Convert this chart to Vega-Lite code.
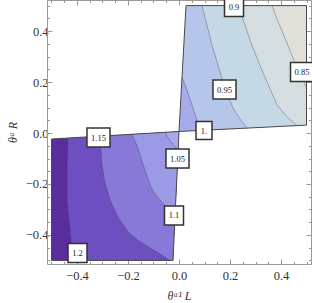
{
  "$schema": "https://vega.github.io/schema/vega-lite/v6.json",
  "width": 264,
  "height": 264,
  "autosize": "none",
  "padding": {"left": 47, "top": 0, "right": 1, "bottom": 39},
  "background": "white",
  "config": {"view": {"stroke": null}},
  "datasets": {
    "bands": [
      {"poly": "L0", "band": "b1", "i": 0, "x": -0.5, "y": -0.5},
      {"poly": "L0", "band": "b1", "i": 1, "x": -0.5, "y": -0.0235},
      {"poly": "L0", "band": "b1", "i": 2, "x": 0, "y": 0.006},
      {"poly": "L0", "band": "b1", "i": 3, "x": -0.0235, "y": -0.5},
      {"poly": "L1", "band": "b2", "i": 0, "x": -0.4353, "y": -0.0197},
      {"poly": "L1", "band": "b2", "i": 1, "x": -0.4392, "y": -0.1451},
      {"poly": "L1", "band": "b2", "i": 2, "x": -0.4392, "y": -0.2627},
      {"poly": "L1", "band": "b2", "i": 3, "x": -0.4275, "y": -0.3804},
      {"poly": "L1", "band": "b2", "i": 4, "x": -0.4157, "y": -0.5},
      {"poly": "L1", "band": "b2", "i": 5, "x": -0.0235, "y": -0.5},
      {"poly": "L1", "band": "b2", "i": 6, "x": 0, "y": 0.006},
      {"poly": "L2", "band": "b3", "i": 0, "x": -0.3098, "y": -0.0123},
      {"poly": "L2", "band": "b3", "i": 1, "x": -0.3059, "y": -0.0667},
      {"poly": "L2", "band": "b3", "i": 2, "x": -0.302, "y": -0.1255},
      {"poly": "L2", "band": "b3", "i": 3, "x": -0.2902, "y": -0.1961},
      {"poly": "L2", "band": "b3", "i": 4, "x": -0.2706, "y": -0.2627},
      {"poly": "L2", "band": "b3", "i": 5, "x": -0.2392, "y": -0.3294},
      {"poly": "L2", "band": "b3", "i": 6, "x": -0.2, "y": -0.3882},
      {"poly": "L2", "band": "b3", "i": 7, "x": -0.1569, "y": -0.4235},
      {"poly": "L2", "band": "b3", "i": 8, "x": -0.1137, "y": -0.451},
      {"poly": "L2", "band": "b3", "i": 9, "x": -0.0745, "y": -0.4745},
      {"poly": "L2", "band": "b3", "i": 10, "x": -0.0353, "y": -0.5},
      {"poly": "L2", "band": "b3", "i": 11, "x": -0.0235, "y": -0.5},
      {"poly": "L2", "band": "b3", "i": 12, "x": 0, "y": 0.006},
      {"poly": "L3", "band": "b4", "i": 0, "x": -0.1843, "y": -0.0049},
      {"poly": "L3", "band": "b4", "i": 1, "x": -0.1725, "y": -0.0314},
      {"poly": "L3", "band": "b4", "i": 2, "x": -0.1608, "y": -0.0588},
      {"poly": "L3", "band": "b4", "i": 3, "x": -0.149, "y": -0.098},
      {"poly": "L3", "band": "b4", "i": 4, "x": -0.1333, "y": -0.1451},
      {"poly": "L3", "band": "b4", "i": 5, "x": -0.1137, "y": -0.2039},
      {"poly": "L3", "band": "b4", "i": 6, "x": -0.0941, "y": -0.2392},
      {"poly": "L3", "band": "b4", "i": 7, "x": -0.0745, "y": -0.2627},
      {"poly": "L3", "band": "b4", "i": 8, "x": -0.0471, "y": -0.2941},
      {"poly": "L3", "band": "b4", "i": 9, "x": -0.015, "y": -0.3176},
      {"poly": "L3", "band": "b4", "i": 10, "x": 0, "y": 0.006},
      {"poly": "L4", "band": "b5", "i": 0, "x": -0.0549, "y": 0.0028},
      {"poly": "L4", "band": "b5", "i": 1, "x": -0.0314, "y": -0.0353},
      {"poly": "L4", "band": "b5", "i": 2, "x": -0.0034, "y": -0.0667},
      {"poly": "L4", "band": "b5", "i": 3, "x": 0, "y": 0.006},
      {"poly": "U0", "band": "b5", "i": 0, "x": 0, "y": 0.006},
      {"poly": "U0", "band": "b5", "i": 1, "x": 0.0275, "y": 0.5},
      {"poly": "U0", "band": "b5", "i": 2, "x": 0.5, "y": 0.5},
      {"poly": "U0", "band": "b5", "i": 3, "x": 0.5, "y": 0.031},
      {"poly": "U1", "band": "b6", "i": 0, "x": 0.0119, "y": 0.2196},
      {"poly": "U1", "band": "b6", "i": 1, "x": 0.0314, "y": 0.1686},
      {"poly": "U1", "band": "b6", "i": 2, "x": 0.051, "y": 0.1098},
      {"poly": "U1", "band": "b6", "i": 3, "x": 0.0706, "y": 0.051},
      {"poly": "U1", "band": "b6", "i": 4, "x": 0.0824, "y": 0.0093},
      {"poly": "U1", "band": "b6", "i": 5, "x": 0.5, "y": 0.031},
      {"poly": "U1", "band": "b6", "i": 6, "x": 0.5, "y": 0.5},
      {"poly": "U1", "band": "b6", "i": 7, "x": 0.0275, "y": 0.5},
      {"poly": "U2", "band": "b7", "i": 0, "x": 0.0902, "y": 0.5},
      {"poly": "U2", "band": "b7", "i": 1, "x": 0.1098, "y": 0.4235},
      {"poly": "U2", "band": "b7", "i": 2, "x": 0.1294, "y": 0.3451},
      {"poly": "U2", "band": "b7", "i": 3, "x": 0.1529, "y": 0.2667},
      {"poly": "U2", "band": "b7", "i": 4, "x": 0.1765, "y": 0.1882},
      {"poly": "U2", "band": "b7", "i": 5, "x": 0.2118, "y": 0.098},
      {"poly": "U2", "band": "b7", "i": 6, "x": 0.2392, "y": 0.0549},
      {"poly": "U2", "band": "b7", "i": 7, "x": 0.2667, "y": 0.0189},
      {"poly": "U2", "band": "b7", "i": 8, "x": 0.5, "y": 0.031},
      {"poly": "U2", "band": "b7", "i": 9, "x": 0.5, "y": 0.5},
      {"poly": "U3", "band": "b8", "i": 0, "x": 0.2314, "y": 0.5},
      {"poly": "U3", "band": "b8", "i": 1, "x": 0.2549, "y": 0.4353},
      {"poly": "U3", "band": "b8", "i": 2, "x": 0.2784, "y": 0.3647},
      {"poly": "U3", "band": "b8", "i": 3, "x": 0.3059, "y": 0.2941},
      {"poly": "U3", "band": "b8", "i": 4, "x": 0.3333, "y": 0.2275},
      {"poly": "U3", "band": "b8", "i": 5, "x": 0.3843, "y": 0.1098},
      {"poly": "U3", "band": "b8", "i": 6, "x": 0.4235, "y": 0.0627},
      {"poly": "U3", "band": "b8", "i": 7, "x": 0.4627, "y": 0.0291},
      {"poly": "U3", "band": "b8", "i": 8, "x": 0.5, "y": 0.031},
      {"poly": "U3", "band": "b8", "i": 9, "x": 0.5, "y": 0.5},
      {"poly": "U4", "band": "b9", "i": 0, "x": 0.3647, "y": 0.5},
      {"poly": "U4", "band": "b9", "i": 1, "x": 0.3843, "y": 0.4471},
      {"poly": "U4", "band": "b9", "i": 2, "x": 0.4078, "y": 0.3922},
      {"poly": "U4", "band": "b9", "i": 3, "x": 0.4471, "y": 0.2941},
      {"poly": "U4", "band": "b9", "i": 4, "x": 0.4745, "y": 0.2353},
      {"poly": "U4", "band": "b9", "i": 5, "x": 0.5, "y": 0.1765},
      {"poly": "U4", "band": "b9", "i": 6, "x": 0.5, "y": 0.5}
    ],
    "contours": [
      {"c": "1.2", "i": 0, "x": -0.4353, "y": -0.0197},
      {"c": "1.2", "i": 1, "x": -0.4392, "y": -0.1451},
      {"c": "1.2", "i": 2, "x": -0.4392, "y": -0.2627},
      {"c": "1.2", "i": 3, "x": -0.4275, "y": -0.3804},
      {"c": "1.2", "i": 4, "x": -0.4157, "y": -0.5},
      {"c": "1.15", "i": 0, "x": -0.3098, "y": -0.0123},
      {"c": "1.15", "i": 1, "x": -0.3059, "y": -0.0667},
      {"c": "1.15", "i": 2, "x": -0.302, "y": -0.1255},
      {"c": "1.15", "i": 3, "x": -0.2902, "y": -0.1961},
      {"c": "1.15", "i": 4, "x": -0.2706, "y": -0.2627},
      {"c": "1.15", "i": 5, "x": -0.2392, "y": -0.3294},
      {"c": "1.15", "i": 6, "x": -0.2, "y": -0.3882},
      {"c": "1.15", "i": 7, "x": -0.1569, "y": -0.4235},
      {"c": "1.15", "i": 8, "x": -0.1137, "y": -0.451},
      {"c": "1.15", "i": 9, "x": -0.0745, "y": -0.4745},
      {"c": "1.15", "i": 10, "x": -0.0353, "y": -0.5},
      {"c": "1.1", "i": 0, "x": -0.1843, "y": -0.0049},
      {"c": "1.1", "i": 1, "x": -0.1725, "y": -0.0314},
      {"c": "1.1", "i": 2, "x": -0.1608, "y": -0.0588},
      {"c": "1.1", "i": 3, "x": -0.149, "y": -0.098},
      {"c": "1.1", "i": 4, "x": -0.1333, "y": -0.1451},
      {"c": "1.1", "i": 5, "x": -0.1137, "y": -0.2039},
      {"c": "1.1", "i": 6, "x": -0.0941, "y": -0.2392},
      {"c": "1.1", "i": 7, "x": -0.0745, "y": -0.2627},
      {"c": "1.1", "i": 8, "x": -0.0471, "y": -0.2941},
      {"c": "1.1", "i": 9, "x": -0.015, "y": -0.3176},
      {"c": "1.05", "i": 0, "x": -0.0549, "y": 0.0028},
      {"c": "1.05", "i": 1, "x": -0.0314, "y": -0.0353},
      {"c": "1.05", "i": 2, "x": -0.0034, "y": -0.0667},
      {"c": "1.0", "i": 0, "x": 0.0119, "y": 0.2196},
      {"c": "1.0", "i": 1, "x": 0.0314, "y": 0.1686},
      {"c": "1.0", "i": 2, "x": 0.051, "y": 0.1098},
      {"c": "1.0", "i": 3, "x": 0.0706, "y": 0.051},
      {"c": "1.0", "i": 4, "x": 0.0824, "y": 0.0093},
      {"c": "0.95", "i": 0, "x": 0.0902, "y": 0.5},
      {"c": "0.95", "i": 1, "x": 0.1098, "y": 0.4235},
      {"c": "0.95", "i": 2, "x": 0.1294, "y": 0.3451},
      {"c": "0.95", "i": 3, "x": 0.1529, "y": 0.2667},
      {"c": "0.95", "i": 4, "x": 0.1765, "y": 0.1882},
      {"c": "0.95", "i": 5, "x": 0.2118, "y": 0.098},
      {"c": "0.95", "i": 6, "x": 0.2392, "y": 0.0549},
      {"c": "0.95", "i": 7, "x": 0.2667, "y": 0.0189},
      {"c": "0.9", "i": 0, "x": 0.2314, "y": 0.5},
      {"c": "0.9", "i": 1, "x": 0.2549, "y": 0.4353},
      {"c": "0.9", "i": 2, "x": 0.2784, "y": 0.3647},
      {"c": "0.9", "i": 3, "x": 0.3059, "y": 0.2941},
      {"c": "0.9", "i": 4, "x": 0.3333, "y": 0.2275},
      {"c": "0.9", "i": 5, "x": 0.3843, "y": 0.1098},
      {"c": "0.9", "i": 6, "x": 0.4235, "y": 0.0627},
      {"c": "0.9", "i": 7, "x": 0.4627, "y": 0.0291},
      {"c": "0.85", "i": 0, "x": 0.3647, "y": 0.5},
      {"c": "0.85", "i": 1, "x": 0.3843, "y": 0.4471},
      {"c": "0.85", "i": 2, "x": 0.4078, "y": 0.3922},
      {"c": "0.85", "i": 3, "x": 0.4471, "y": 0.2941},
      {"c": "0.85", "i": 4, "x": 0.4745, "y": 0.2353},
      {"c": "0.85", "i": 5, "x": 0.5, "y": 0.1765}
    ],
    "outline": [
      {"poly": "lower", "i": 0, "x": -0.5, "y": -0.5},
      {"poly": "lower", "i": 1, "x": -0.5, "y": -0.0235},
      {"poly": "lower", "i": 2, "x": 0, "y": 0.006},
      {"poly": "lower", "i": 3, "x": -0.0235, "y": -0.5},
      {"poly": "upper", "i": 0, "x": 0, "y": 0.006},
      {"poly": "upper", "i": 1, "x": 0.0275, "y": 0.5},
      {"poly": "upper", "i": 2, "x": 0.5, "y": 0.5},
      {"poly": "upper", "i": 3, "x": 0.5, "y": 0.031}
    ],
    "labels": [
      {"label": "0.9", "x": 0.2157, "y": 0.4941},
      {"label": "0.85", "x": 0.4824, "y": 0.2392},
      {"label": "0.95", "x": 0.1784, "y": 0.1706},
      {"label": "1.", "x": 0.098, "y": 0.0098},
      {"label": "1.05", "x": -0.0059, "y": -0.1},
      {"label": "1.1", "x": -0.0196, "y": -0.3235},
      {"label": "1.15", "x": -0.3157, "y": -0.0176},
      {"label": "1.2", "x": -0.398, "y": -0.4706}
    ]
  },
  "resolve": {"axis": {"x": "independent", "y": "independent"}},
  "layer": [
    {
      "data": {"name": "bands"},
      "mark": {"type": "line", "interpolate": "linear-closed", "strokeOpacity": 0, "fillOpacity": 1},
      "encoding": {
        "x": {
          "field": "x", "type": "quantitative",
          "scale": {"domain": [-0.5176, 0.5176], "nice": false, "zero": false},
          "axis": {
            "orient": "bottom",
            "values": [-0.5, -0.45, -0.4, -0.35, -0.3, -0.25, -0.2, -0.15, -0.1, -0.05, 0, 0.05, 0.1, 0.15, 0.2, 0.25, 0.3, 0.35, 0.4, 0.45, 0.5],
            "labelExpr": "abs(datum.value*5 - round(datum.value*5)) < 0.001 ? format(datum.value, '.1f') : ''",
            "tickSize": {"condition": {"test": "abs(datum.value*5 - round(datum.value*5)) < 0.001", "value": -5}, "value": -2.5},
            "tickColor": "#999999", "domainColor": "#999999", "tickWidth": 1, "domainWidth": 1,
            "labelFont": "Liberation Serif", "labelFontSize": 12.5, "labelColor": "#333333",
            "labelPadding": 10, "labelFlush": false, "labelOverlap": false,
            "grid": false,
            "title": "θᵃ¹ L", "titleFont": "Liberation Serif", "titleFontStyle": "italic", "titleFontWeight": "normal",
            "titleFontSize": 12, "titleColor": "#333333", "titlePadding": 6
          }
        },
        "y": {
          "field": "y", "type": "quantitative",
          "scale": {"domain": [-0.514, 0.522], "nice": false, "zero": false},
          "axis": {
            "orient": "left",
            "values": [-0.5, -0.45, -0.4, -0.35, -0.3, -0.25, -0.2, -0.15, -0.1, -0.05, 0, 0.05, 0.1, 0.15, 0.2, 0.25, 0.3, 0.35, 0.4, 0.45, 0.5],
            "labelExpr": "abs(datum.value*5 - round(datum.value*5)) < 0.001 ? format(datum.value, '.1f') : ''",
            "tickSize": {"condition": {"test": "abs(datum.value*5 - round(datum.value*5)) < 0.001", "value": -5}, "value": -2.5},
            "tickColor": "#999999", "domainColor": "#999999", "tickWidth": 1, "domainWidth": 1,
            "labelFont": "Liberation Serif", "labelFontSize": 12.5, "labelColor": "#333333",
            "labelPadding": 4, "labelFlush": false, "labelOverlap": false,
            "grid": false,
            "title": "θᵃ R", "titleFont": "Liberation Serif", "titleFontStyle": "italic", "titleFontWeight": "normal",
            "titleFontSize": 12, "titleColor": "#333333", "titlePadding": 6
          }
        },
        "order": {"field": "i", "type": "quantitative"},
        "detail": {"field": "poly", "type": "nominal"},
        "fill": {
          "field": "band", "type": "nominal",
          "scale": {
            "domain": ["b1", "b2", "b3", "b4", "b5", "b6", "b7", "b8", "b9"],
            "range": ["#5a2d9e", "#6e4fbf", "#8878d8", "#9c9ae6", "#a7abec", "#b6c5ea", "#c5d8e6", "#d4dde0", "#e0e0d8"]
          },
          "legend": null
        }
      }
    },
    {
      "data": {"name": "contours"},
      "mark": {"type": "line", "stroke": "#3a3a4a", "strokeOpacity": 0.45, "strokeWidth": 0.8},
      "encoding": {
        "x": {"field": "x", "type": "quantitative", "axis": null},
        "y": {"field": "y", "type": "quantitative", "axis": null},
        "order": {"field": "i", "type": "quantitative"},
        "detail": {"field": "c", "type": "nominal"}
      }
    },
    {
      "data": {"name": "outline"},
      "mark": {"type": "line", "interpolate": "linear-closed", "stroke": "#4a4a4a", "strokeWidth": 1},
      "encoding": {
        "x": {
          "field": "x", "type": "quantitative",
          "axis": {
            "orient": "top",
            "values": [-0.5, -0.45, -0.4, -0.35, -0.3, -0.25, -0.2, -0.15, -0.1, -0.05, 0, 0.05, 0.1, 0.15, 0.2, 0.25, 0.3, 0.35, 0.4, 0.45, 0.5],
            "labels": false,
            "tickSize": {"condition": {"test": "abs(datum.value*5 - round(datum.value*5)) < 0.001", "value": -5}, "value": -2.5},
            "tickColor": "#999999", "domainColor": "#999999", "grid": false, "title": null
          }
        },
        "y": {
          "field": "y", "type": "quantitative",
          "axis": {
            "orient": "right",
            "values": [-0.5, -0.45, -0.4, -0.35, -0.3, -0.25, -0.2, -0.15, -0.1, -0.05, 0, 0.05, 0.1, 0.15, 0.2, 0.25, 0.3, 0.35, 0.4, 0.45, 0.5],
            "labels": false,
            "tickSize": {"condition": {"test": "abs(datum.value*5 - round(datum.value*5)) < 0.001", "value": -5}, "value": -2.5},
            "tickColor": "#999999", "domainColor": "#999999", "grid": false, "title": null
          }
        },
        "order": {"field": "i", "type": "quantitative"},
        "detail": {"field": "poly", "type": "nominal"}
      }
    },
    {
      "data": {"name": "labels"},
      "mark": {"type": "point", "filled": true, "fill": "white", "fillOpacity": 1, "stroke": "#333333", "strokeWidth": 1.5, "opacity": 1},
      "encoding": {
        "x": {"field": "x", "type": "quantitative", "axis": null},
        "y": {"field": "y", "type": "quantitative", "axis": null},
        "shape": {
          "condition": [
            {"test": "length(datum.label) == 4", "value": "M-1,-0.826L1,-0.826L1,0.826L-1,0.826Z"},
            {"test": "length(datum.label) == 2", "value": "M-0.889,-1L0.889,-1L0.889,1L-0.889,1Z"}
          ],
          "value": "M-1,-1L1,-1L1,1L-1,1Z"
        },
        "size": {
          "condition": [
            {"test": "length(datum.label) == 4", "value": 529},
            {"test": "length(datum.label) == 2", "value": 324}
          ],
          "value": 361
        }
      }
    },
    {
      "data": {"name": "labels"},
      "mark": {"type": "text", "font": "Liberation Serif", "fontSize": 8.5, "color": "#222222", "align": "center", "baseline": "middle"},
      "encoding": {
        "x": {"field": "x", "type": "quantitative", "axis": null},
        "y": {"field": "y", "type": "quantitative", "axis": null},
        "text": {"field": "label", "type": "nominal"}
      }
    }
  ]
}
